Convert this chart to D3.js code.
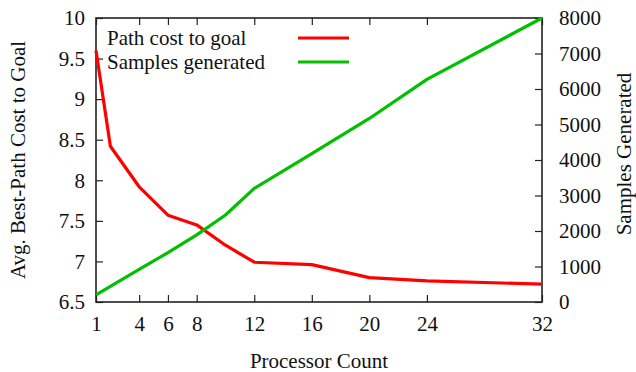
<!DOCTYPE html>
<html>
<head>
<meta charset="utf-8">
<script src="https://cdn.jsdelivr.net/npm/d3@7"></script>
<style>
  body { margin: 0; background: #fff; }
  text { font-family: "Liberation Serif", "DejaVu Serif", serif; fill: #111; }
</style>
</head>
<body>
<svg id="chart"></svg>
<script>
// processor counts on the x axis
const processors = [1, 2, 4, 6, 8, 10, 12, 16, 20, 24, 32];
// avg best-path cost (left axis)
const pathCost = [9.6, 8.42, 7.92, 7.57, 7.45, 7.2, 6.99, 6.96, 6.8, 6.76, 6.72];
// samples generated (right axis)
const samples = [200, 440, 920, 1390, 1890, 2450, 3200, 4180, 5170, 6270, 8000];
const xTicks = [1, 4, 6, 8, 12, 16, 20, 24, 32];
const yTicks = [6.5, 7, 7.5, 8, 8.5, 9, 9.5, 10];
const y2Ticks = [0, 1000, 2000, 3000, 4000, 5000, 6000, 7000, 8000];
const legendNames = ["Path cost to goal", "Samples generated"];
const colors = ["#ff0000", "#00c000"];

const W = 636, H = 372;
const margin = {left: 96, right: 94, top: 18, bottom: 70};
const width = W - margin.left - margin.right;
const height = H - margin.top - margin.bottom;

const svg = d3.select("#chart").attr("width", W).attr("height", H);
const g = svg.append("g").attr("transform", "translate(" + margin.left + "," + margin.top + ")");

const x = d3.scaleLinear().domain([1, 32]).range([0, width]);
const y = d3.scaleLinear().domain([6.5, 10]).range([height, 0]);
const y2 = d3.scaleLinear().domain([0, 8000]).range([height, 0]);

const tickLen = 7;
const fs = "21px";

// bottom axis, ticks pointing inward
const xAxis = g.append("g").attr("transform", "translate(0," + height + ")")
    .call(d3.axisBottom(x).tickValues(xTicks).tickSizeInner(-tickLen).tickSizeOuter(0).tickPadding(14));
// mirrored ticks on top
const xTop = g.append("g")
    .call(d3.axisTop(x).tickValues(xTicks).tickSizeInner(-tickLen).tickSizeOuter(0).tickFormat(""));
const yAxis = g.append("g")
    .call(d3.axisLeft(y).tickValues(yTicks).tickFormat(d3.format("")).tickSizeInner(-tickLen).tickSizeOuter(0).tickPadding(11));
const y2Axis = g.append("g").attr("transform", "translate(" + width + ",0)")
    .call(d3.axisRight(y2).tickValues(y2Ticks).tickFormat(d3.format("d")).tickSizeInner(-tickLen).tickSizeOuter(0).tickPadding(17));

[xAxis, xTop, yAxis, y2Axis].forEach(a => {
    a.select(".domain").remove();
    a.selectAll("line").attr("stroke", "#222").attr("stroke-width", 1.2);
    a.selectAll("text").style("font-size", fs).attr("fill", "#111")
        .style("font-family", '"Liberation Serif", serif');
});

// border box
g.append("rect")
    .attr("width", width).attr("height", height)
    .attr("fill", "none").attr("stroke", "#222").attr("stroke-width", 1.6);

// lines
const costLine = d3.line().x((d, i) => x(processors[i])).y(d => y(d));
const sampLine = d3.line().x((d, i) => x(processors[i])).y(d => y2(d));

g.append("path").datum(pathCost)
    .attr("fill", "none").attr("stroke", colors[0]).attr("stroke-width", 3.2)
    .attr("stroke-linejoin", "round").attr("d", costLine);
g.append("path").datum(samples)
    .attr("fill", "none").attr("stroke", colors[1]).attr("stroke-width", 3.2)
    .attr("stroke-linejoin", "round").attr("d", sampLine);

// legend
legendNames.forEach((name, i) => {
    const ly = 20 + i * 24;
    g.append("text").attr("x", 11).attr("y", ly).attr("dy", "0.35em")
        .style("font-size", fs).text(name);
    g.append("line").attr("x1", 202).attr("x2", 253).attr("y1", ly).attr("y2", ly)
        .attr("stroke", colors[i]).attr("stroke-width", 3.2);
});

// axis titles
svg.append("text").attr("x", margin.left + width / 2).attr("y", 368)
    .attr("text-anchor", "middle").style("font-size", fs).text("Processor Count");
svg.append("text").attr("transform", "translate(25," + (margin.top + height / 2) + ") rotate(-90)")
    .attr("text-anchor", "middle").style("font-size", fs).text("Avg. Best-Path Cost to Goal");
svg.append("text").attr("transform", "translate(631," + (margin.top + height / 2 - 6) + ") rotate(-90)")
    .attr("text-anchor", "middle").style("font-size", fs).text("Samples Generated");
</script>
</body>
</html>
